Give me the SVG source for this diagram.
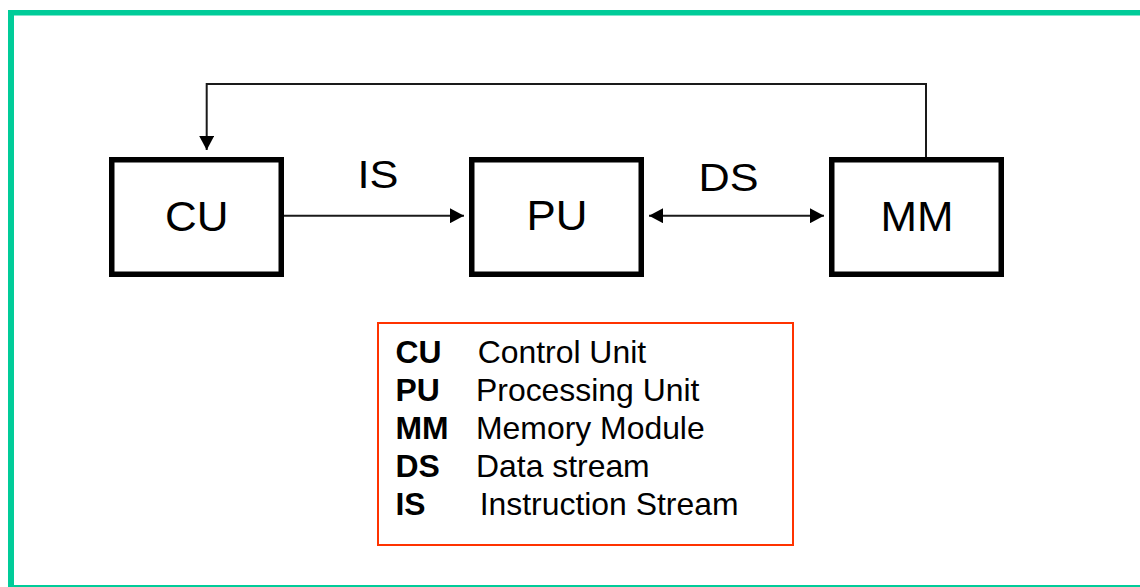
<svg xmlns="http://www.w3.org/2000/svg" width="1140" height="587" viewBox="0 0 1140 587">
  <defs>
    <style>
      .frame { stroke: #00CC99; fill: none; }
      .box { fill: #ffffff; stroke: #000000; stroke-width: 5.5; }
      .big { font-family: "Liberation Sans", Arial, sans-serif; font-size: 42px; fill: #000000; text-anchor: middle; }
      .lbl { font-family: "Liberation Sans", Arial, sans-serif; font-size: 38px; fill: #000000; text-anchor: middle; }
      .wire { stroke: #1a1a1a; stroke-width: 2; fill: none; }
      .key { fill: #ffffff; stroke: #FF3300; stroke-width: 2; }
      .ab { font-family: "Liberation Sans", Arial, sans-serif; font-size: 30.5px; font-weight: bold; fill: #000000; }
      .desc { font-family: "Liberation Sans", Arial, sans-serif; font-size: 30.5px; fill: #000000; }
    </style>
    <marker id="head" viewBox="0 0 14 15" markerWidth="14" markerHeight="15" refX="14" refY="7.5" orient="auto-start-reverse" markerUnits="userSpaceOnUse">
      <path d="M0,0 L14,7.5 L0,15 Z" fill="#000000"/>
    </marker>
  </defs>

  <rect width="1140" height="587" fill="#ffffff"/>

  <!-- outer frame -->
  <g id="frame">
    <line class="frame" x1="11" y1="10" x2="11" y2="587" stroke-width="6"/>
    <line class="frame" x1="8" y1="12.7" x2="1140" y2="12.7" stroke-width="5.4"/>
    <line class="frame" x1="8" y1="586" x2="1140" y2="586" stroke-width="2"/>
  </g>

  <!-- connectors -->
  <g id="connectors">
    <polyline class="wire" points="926,157 926,84 206.7,84 206.7,150" marker-end="url(#head)"/>
    <line class="wire" x1="284" y1="215.7" x2="464" y2="215.7" marker-end="url(#head)"/>
    <line class="wire" x1="649" y1="215.7" x2="824" y2="215.7" marker-start="url(#head)" marker-end="url(#head)"/>
    <text class="lbl" x="378" y="188" textLength="41" lengthAdjust="spacingAndGlyphs">IS</text>
    <text class="lbl" x="728.5" y="191" textLength="60" lengthAdjust="spacingAndGlyphs">DS</text>
  </g>

  <g id="cu">
    <rect class="box" x="111.75" y="159.75" width="169.5" height="114.5"/>
    <text class="big" x="196.7" y="230.5" textLength="63.5" lengthAdjust="spacingAndGlyphs">CU</text>
  </g>

  <g id="pu">
    <rect class="box" x="471.75" y="159.75" width="169.5" height="114.5"/>
    <text class="big" x="557" y="230" textLength="61" lengthAdjust="spacingAndGlyphs">PU</text>
  </g>

  <g id="mm">
    <rect class="box" x="831.75" y="159.75" width="169.5" height="114.5"/>
    <text class="big" x="917" y="230.5" textLength="73" lengthAdjust="spacingAndGlyphs">MM</text>
  </g>

  <!-- abbreviation key -->
  <g id="legend">
    <rect class="key" x="378" y="323" width="415" height="222"/>
    <text class="ab" x="395.5" y="363.3" textLength="46" lengthAdjust="spacingAndGlyphs">CU</text>
    <text class="desc" x="477.7" y="363.3" textLength="168.4" lengthAdjust="spacingAndGlyphs">Control Unit</text>
    <text class="ab" x="395.5" y="400.7" textLength="44.3" lengthAdjust="spacingAndGlyphs">PU</text>
    <text class="desc" x="476" y="400.7" textLength="223.4" lengthAdjust="spacingAndGlyphs">Processing Unit</text>
    <text class="ab" x="395.5" y="439.3" textLength="53.1" lengthAdjust="spacingAndGlyphs">MM</text>
    <text class="desc" x="476" y="439.3" textLength="228.7" lengthAdjust="spacingAndGlyphs">Memory Module</text>
    <text class="ab" x="395.5" y="476.7" textLength="44.3" lengthAdjust="spacingAndGlyphs">DS</text>
    <text class="desc" x="476" y="476.7" textLength="173.7" lengthAdjust="spacingAndGlyphs">Data stream</text>
    <text class="ab" x="395.5" y="515" textLength="30.1" lengthAdjust="spacingAndGlyphs">IS</text>
    <text class="desc" x="479.7" y="515" textLength="258.8" lengthAdjust="spacingAndGlyphs">Instruction Stream</text>
  </g>
</svg>
